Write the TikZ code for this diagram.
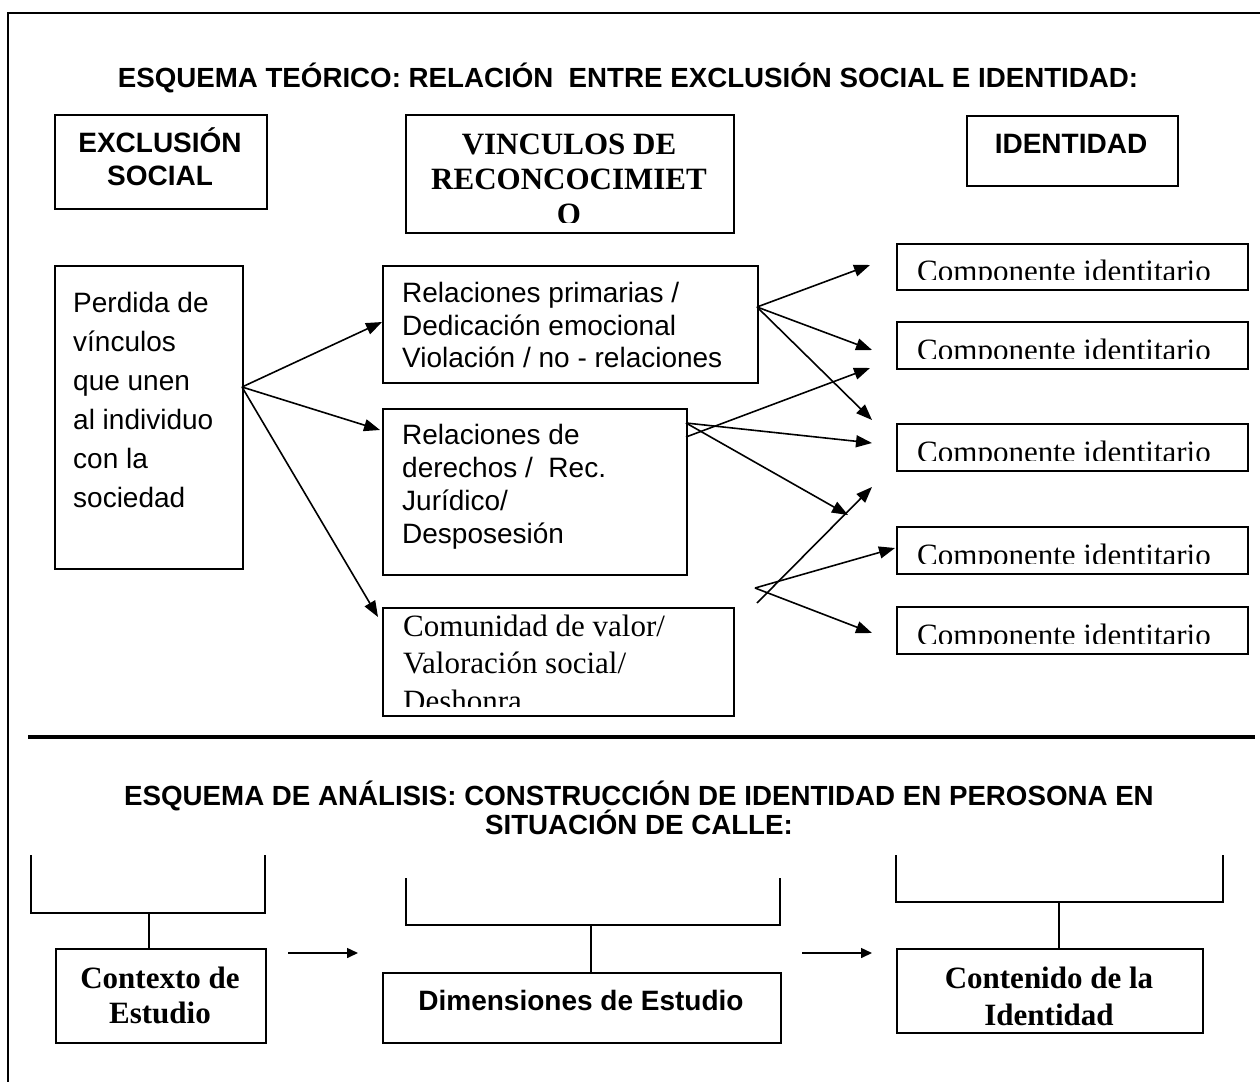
\documentclass[tikz,border=0pt]{standalone}
\usepackage{fontspec}
\setmainfont{Liberation Serif}
\newfontfamily\arialf{Liberation Sans}
\usetikzlibrary{arrows.meta}
\begin{document}
\begin{tikzpicture}[x=1pt,y=-1pt,
  box/.style={draw, line width=1.5pt, inner sep=0pt, anchor=north west},
  sans/.style={font=\arialf\fontsize{28}{34}\selectfont},
  sansb/.style={font=\arialf\bfseries\fontsize{28}{34}\selectfont},
  titleb/.style={font=\arialf\bfseries\fontsize{27.7}{33}\selectfont},
  serif/.style={font=\fontsize{31}{37}\selectfont},
  serifb/.style={font=\bfseries\fontsize{31}{37}\selectfont},
  txt/.style={inner sep=0pt, anchor=base west},
  ctxt/.style={inner sep=0pt, anchor=base},
  conn/.style={line width=1.6pt, -{Triangle[length=16pt,width=12pt]}},
  link/.style={line width=1.5pt},
  smallarr/.style={line width=1.5pt, -{Triangle[length=11pt,width=10pt]}},
]
\useasboundingbox (0,0) rectangle (1260,1082);
\fill[white] (0,0) rectangle (1260,1082);

% outer frame
\draw[line width=1.8pt] (1260,13) -- (8,13) -- (8,1082);
% separator
\draw[line width=4pt] (28,737) -- (1255,737);

% ---------- titles ----------
\node[ctxt, titleb] (t1) at (628,87) {ESQUEMA TEÓRICO: RELACIÓN~ ENTRE EXCLUSIÓN SOCIAL E IDENTIDAD:};
\node[ctxt, titleb] (t2a) at (639,805) {ESQUEMA DE ANÁLISIS: CONSTRUCCIÓN DE IDENTIDAD EN PEROSONA EN};
\node[ctxt, titleb] (t2b) at (639,834) {SITUACIÓN DE CALLE:};

% ---------- header boxes ----------
\node[box, minimum width=212pt, minimum height=94pt] (exc) at (54,114) {};
\node[ctxt, sansb] (exc1) at (160,152) {EXCLUSIÓN};
\node[ctxt, sansb] (exc2) at (160,185) {SOCIAL};

\node[box, minimum width=328pt, minimum height=118pt] (vin) at (405,114) {};
\begin{scope}
  \clip (405,114) rectangle (733,222);
  \node[ctxt, serifb] (vin1) at (569,154) {VINCULOS DE};
  \node[ctxt, serifb] (vin2) at (569,189) {RECONCOCIMIET};
  \node[ctxt, serifb] (vin3) at (569,224) {O};
\end{scope}

\node[box, minimum width=211pt, minimum height=70pt] (ide) at (966,115) {};
\node[ctxt, sansb] (ide1) at (1071,153) {IDENTIDAD};

% ---------- left box ----------
\node[box, minimum width=188pt, minimum height=303pt] (per) at (54,265) {};
\node[txt, sans] (per1) at (73,312) {Perdida de};
\node[txt, sans] (per2) at (73,351) {vínculos};
\node[txt, sans] (per3) at (73,390) {que unen};
\node[txt, sans] (per4) at (73,429) {al individuo};
\node[txt, sans] (per5) at (73,468) {con la};
\node[txt, sans] (per6) at (73,507) {sociedad};

% ---------- middle boxes ----------
\node[box, minimum width=375pt, minimum height=117pt] (rel1) at (382,265) {};
\node[txt, sans] (rel1a) at (402,302) {Relaciones primarias /};
\node[txt, sans] (rel1b) at (402,335) {Dedicación emocional};
\node[txt, sans] (rel1c) at (402,367) {Violación / no - relaciones};

\node[box, minimum width=304pt, minimum height=166pt] (rel2) at (382,408) {};
\node[txt, sans] (rel2a) at (402,444) {Relaciones de};
\node[txt, sans] (rel2b) at (402,477) {derechos /~ Rec.};
\node[txt, sans] (rel2c) at (402,510) {Jurídico/};
\node[txt, sans] (rel2d) at (402,543) {Desposesión};

\node[box, minimum width=351pt, minimum height=108pt] (com) at (382,607) {};
\begin{scope}
  \clip (382,607) rectangle (733,706);
  \node[txt, serif] (com1) at (403,636) {Comunidad de valor/};
  \node[txt, serif] (com2) at (403,673) {Valoración social/};
  \node[txt, serif] (com3) at (403,711) {Deshonra};
\end{scope}

% ---------- component boxes ----------
\node[box, minimum width=351pt, minimum height=46pt] (c1) at (896,243) {};
\node[box, minimum width=351pt, minimum height=47pt] (c2) at (896,321) {};
\node[box, minimum width=351pt, minimum height=47pt] (c3) at (896,423) {};
\node[box, minimum width=351pt, minimum height=47pt] (c4) at (896,526) {};
\node[box, minimum width=351pt, minimum height=47pt] (c5) at (896,606) {};
\begin{scope}
  \clip (896,243) rectangle (1247,279);
  \node[txt, serif] (c1t) at (917,281) {Componente identitario};
\end{scope}
\begin{scope}
  \clip (896,321) rectangle (1247,358);
  \node[txt, serif] (c2t) at (917,360) {Componente identitario};
\end{scope}
\begin{scope}
  \clip (896,423) rectangle (1247,460);
  \node[txt, serif] (c3t) at (917,462) {Componente identitario};
\end{scope}
\begin{scope}
  \clip (896,526) rectangle (1247,563);
  \node[txt, serif] (c4t) at (917,565) {Componente identitario};
\end{scope}
\begin{scope}
  \clip (896,606) rectangle (1247,643);
  \node[txt, serif] (c5t) at (917,645) {Componente identitario};
\end{scope}

% ---------- connector coordinates ----------
\coordinate (O) at (242,387);
\coordinate (P1) at (757,307);
\coordinate (P2a) at (686,423);
\coordinate (P2b) at (686,437);
\coordinate (P3a) at (757,603);
\coordinate (P3b) at (755,588);
\coordinate (T1) at (870,265);
\coordinate (T2) at (872,350);
\coordinate (T3) at (872,420);
\coordinate (T4) at (870,368);
\coordinate (T5) at (872,443);
\coordinate (T6) at (848,515);
\coordinate (T7) at (872,487);
\coordinate (T8) at (895,548);
\coordinate (T9) at (872,633);

% ---------- connectors ----------
\draw[conn] (O) -- (rel1.west |- 0,322);
\draw[conn] (O) -- (380,430);
\draw[conn] (O) -- (378,617);

\draw[conn] (P1) -- (T1);
\draw[conn] (P1) -- (T2);
\draw[conn] (P1) -- (T3);

\draw[conn] (P2b) -- (T4);
\draw[conn] (P2a) -- (T5);
\draw[conn] (P2a) -- (T6);

\draw[conn] (P3a) -- (T7);
\draw[conn] (P3b) -- (T8);
\draw[conn] (P3b) -- (T9);

% ---------- bottom section ----------
\node[box, minimum width=210pt, minimum height=94pt] (ctx) at (55,948) {};
\node[ctxt, serifb] (ctx1) at (160,988) {Contexto de};
\node[ctxt, serifb] (ctx2) at (160,1023) {Estudio};

\node[box, minimum width=398pt, minimum height=70pt] (dim) at (382,972) {};
\node[ctxt, sansb] (dim1) at (581,1010) {Dimensiones de Estudio};

\node[box, minimum width=306pt, minimum height=84pt] (con) at (896,948) {};
\begin{scope}
  \clip (896,948) rectangle (1202,1027);
  \node[ctxt, serifb] (con1) at (1049,988) {Contenido de la};
  \node[ctxt, serifb] (con2) at (1049,1025) {Identidad};
\end{scope}

% brackets
\draw[link] (31,855) -- (31,913) -- (265,913) -- (265,855);
\coordinate (b1) at (149,913);
\draw[link] (b1) -- (ctx.north -| b1);

\draw[link] (406,878) -- (406,925) -- (780,925) -- (780,878);
\coordinate (b2) at (591,925);
\draw[link] (b2) -- (dim.north -| b2);

\draw[link] (896,855) -- (896,902) -- (1223,902) -- (1223,855);
\coordinate (b3) at (1059,902);
\draw[link] (b3) -- (con.north -| b3);

% small arrows
\coordinate (a1s) at (288,953);
\coordinate (a1e) at (358,953);
\coordinate (a2s) at (802,953);
\coordinate (a2e) at (872,953);
\draw[smallarr] (a1s) -- (a1e);
\draw[smallarr] (a2s) -- (a2e);
\end{tikzpicture}
\end{document}
